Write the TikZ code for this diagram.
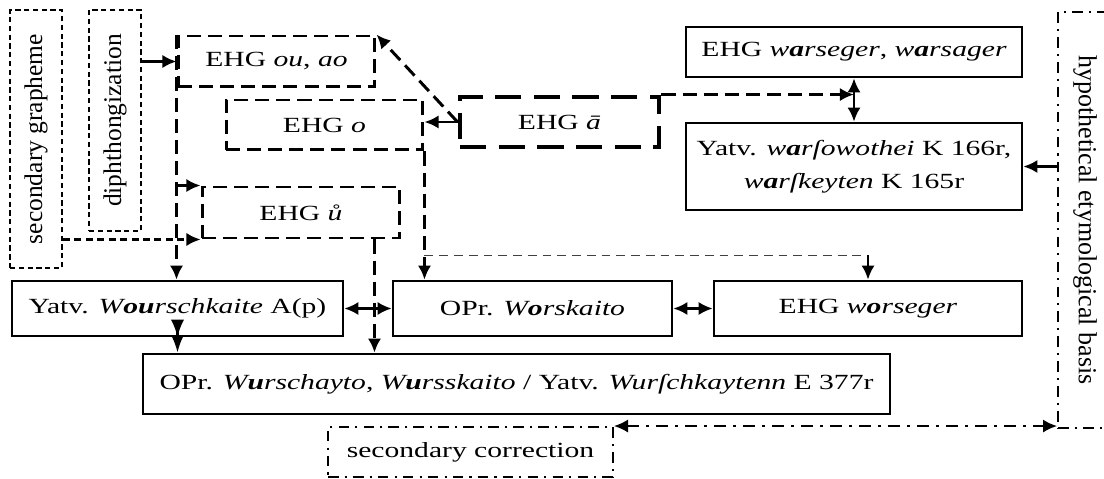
\documentclass[tikz,border=0pt]{standalone}
\usepackage{fontspec}
\setmainfont{Liberation Serif}[FakeStretch=1.37]
\newfontfamily\uprightnote{Liberation Serif}
\usepackage{graphicx}
\usetikzlibrary{arrows.meta}

\begin{document}
\begin{tikzpicture}[
    x=0.02cm, y=-0.02cm,
    font=\fontsize{12.3}{19}\selectfont,
    box/.style={
        draw,
        line width=1.5pt,
        align=center,
        inner sep=2pt
    },
    ehgbox/.style={
        draw,
        line width=1.7pt,
        dash pattern=on 8pt off 4pt,
        inner sep=2pt
    },
    heavybox/.style={
        draw,
        line width=2.8pt,
        dash pattern=on 15pt off 7pt,
        inner sep=2pt
    },
    dotbox/.style={
        draw,
        line width=1.2pt,
        dash pattern=on 3pt off 2pt,
        inner sep=2pt,
        font=\uprightnote\fontsize{14.5}{18}\selectfont
    },
    dotdashbox/.style={
        draw,
        line width=1.1pt,
        dash pattern=on 6pt off 3.5pt on 1.2pt off 3.5pt,
        inner sep=2pt
    },
    arrow/.style={-{Latex[length=8pt,width=7.5pt]}, line width=1.5pt},
    twoway/.style={{Latex[length=8pt,width=7.5pt]}-{Latex[length=8pt,width=7.5pt]}, line width=1.5pt},
    shorttwoway/.style={{Latex[length=10pt,width=7.5pt]}-{Latex[length=10pt,width=7.5pt]}, line width=1.5pt},
    dashline/.style={line width=1.7pt, dash pattern=on 8pt off 4pt},
    dotline/.style={line width=1.3pt, dash pattern=on 4pt off 2.5pt},
    thinline/.style={line width=0.9pt, black!75, dash pattern=on 5pt off 3.4pt},
    dotdashline/.style={line width=1.2pt, dash pattern=on 7pt off 4pt on 1.5pt off 4pt}
]
\useasboundingbox (0,0) rectangle (1104,479);

% side notes
\node[dotbox, minimum width=1.04cm, minimum height=5.16cm] (sgraph) at (36,139) {\rotatebox{90}{secondary grapheme}};
\node[dotbox, minimum width=1.04cm, minimum height=4.42cm] (diph) at (115,120.5) {\rotatebox{90}{diphthongization}};
\node[dotdashbox, minimum width=1.08cm, minimum height=8.32cm,
      font=\uprightnote\fontsize{14.8}{18}\selectfont] (hypo) at (1085,220) {\rotatebox{-90}{hypothetical etymological basis}};
\node[dotdashbox, minimum width=5.7cm, minimum height=1.0cm] (seccorr) at (470.5,452) {secondary correction};

% EHG vowels
\node[ehgbox, minimum width=3.94cm, minimum height=1.02cm] (ehgou) at (276.5,61.5) {EHG \textit{ou}, \textit{ao}};
\node[ehgbox, minimum width=3.94cm, minimum height=1.0cm] (ehgo) at (324.5,125) {EHG \textit{o}};
\node[heavybox, minimum width=3.98cm, minimum height=1.0cm] (ehga) at (559.5,122) {EHG \textit{ā}};
\node[ehgbox, minimum width=3.96cm, minimum height=1.02cm] (ehgu) at (301,212.5) {EHG \textit{ů}};

% attested forms
\node[box, minimum width=6.72cm, minimum height=1.0cm] (wars) at (854,52) {EHG \textit{w\textbf{a}rseger}, \textit{w\textbf{a}rsager}};
\node[box, minimum width=6.72cm, minimum height=1.74cm] (yatvk) at (854,166.5) {Yatv. \textit{w\textbf{a}rſowothei} K 166r,\\\textit{w\textbf{a}rſkeyten} K 165r};
\node[box, minimum width=6.62cm, minimum height=1.1cm] (yatvw) at (177.5,308.5) {Yatv. \textit{W\textbf{ou}rschkaite} A(p)};
\node[box, minimum width=5.58cm, minimum height=1.1cm] (oprw) at (532.5,308.5) {OPr. \textit{W\textbf{o}rskaito}};
\node[box, minimum width=6.16cm, minimum height=1.1cm] (worseg) at (868,308.5) {EHG \textit{w\textbf{o}rseger}};
\node[box, minimum width=14.94cm, minimum height=1.2cm] (oprwu) at (516.5,384) {OPr. \textit{W\textbf{u}rschayto}, \textit{W\textbf{u}rsskaito} / Yatv. \textit{Wurſchkaytenn} E 377r};

% solid links
\draw[arrow] (diph.east |- ehgou.west) -- (ehgou.west);
\draw[arrow] (ehga.west) -- (ehga.west -| ehgo.east);
\draw[twoway] (wars.south) -- (yatvk.north);
\draw[arrow] (hypo.west |- yatvk.east) -- (yatvk.east);
\draw[twoway] (yatvw.east) -- (oprw.west);
\draw[twoway] (oprw.east) -- (worseg.west);
\draw[shorttwoway] (yatvw.south) -- (yatvw.south |- oprwu.north);

% dashed links
\draw[arrow, dashline] (ehga.west) -- (ehgou.north east);
\draw[arrow, dashline] (ehga.north east) -- (ehga.north east -| wars.south);
\draw[arrow, dashline] (ehgou.north west) -- (ehgou.north west |- yatvw.north);
\draw[arrow, dashline] (ehgou.west |- ehgu.north west) -- (ehgu.north west);
\draw[arrow, dotline] (sgraph.east |- ehgu.south west) -- (ehgu.south west);
\coordinate (udrop) at ([xshift=-0.54cm]ehgu.south east);
\draw[arrow, dashline] (udrop) -- (udrop |- oprwu.north);
\draw[arrow, dashline] (ehgo.south east) -- (ehgo.south east |- oprw.north);
\coordinate (split) at ([yshift=-2.08cm]ehgo.south east);
\draw[thinline] (split) -- (split -| worseg.north);
\draw[arrow] (split -| worseg.north) -- (worseg.north);

% correction link
\draw[twoway, dotdashline] (seccorr.north east) -- (seccorr.north east -| hypo.south west);

\end{tikzpicture}
\end{document}
